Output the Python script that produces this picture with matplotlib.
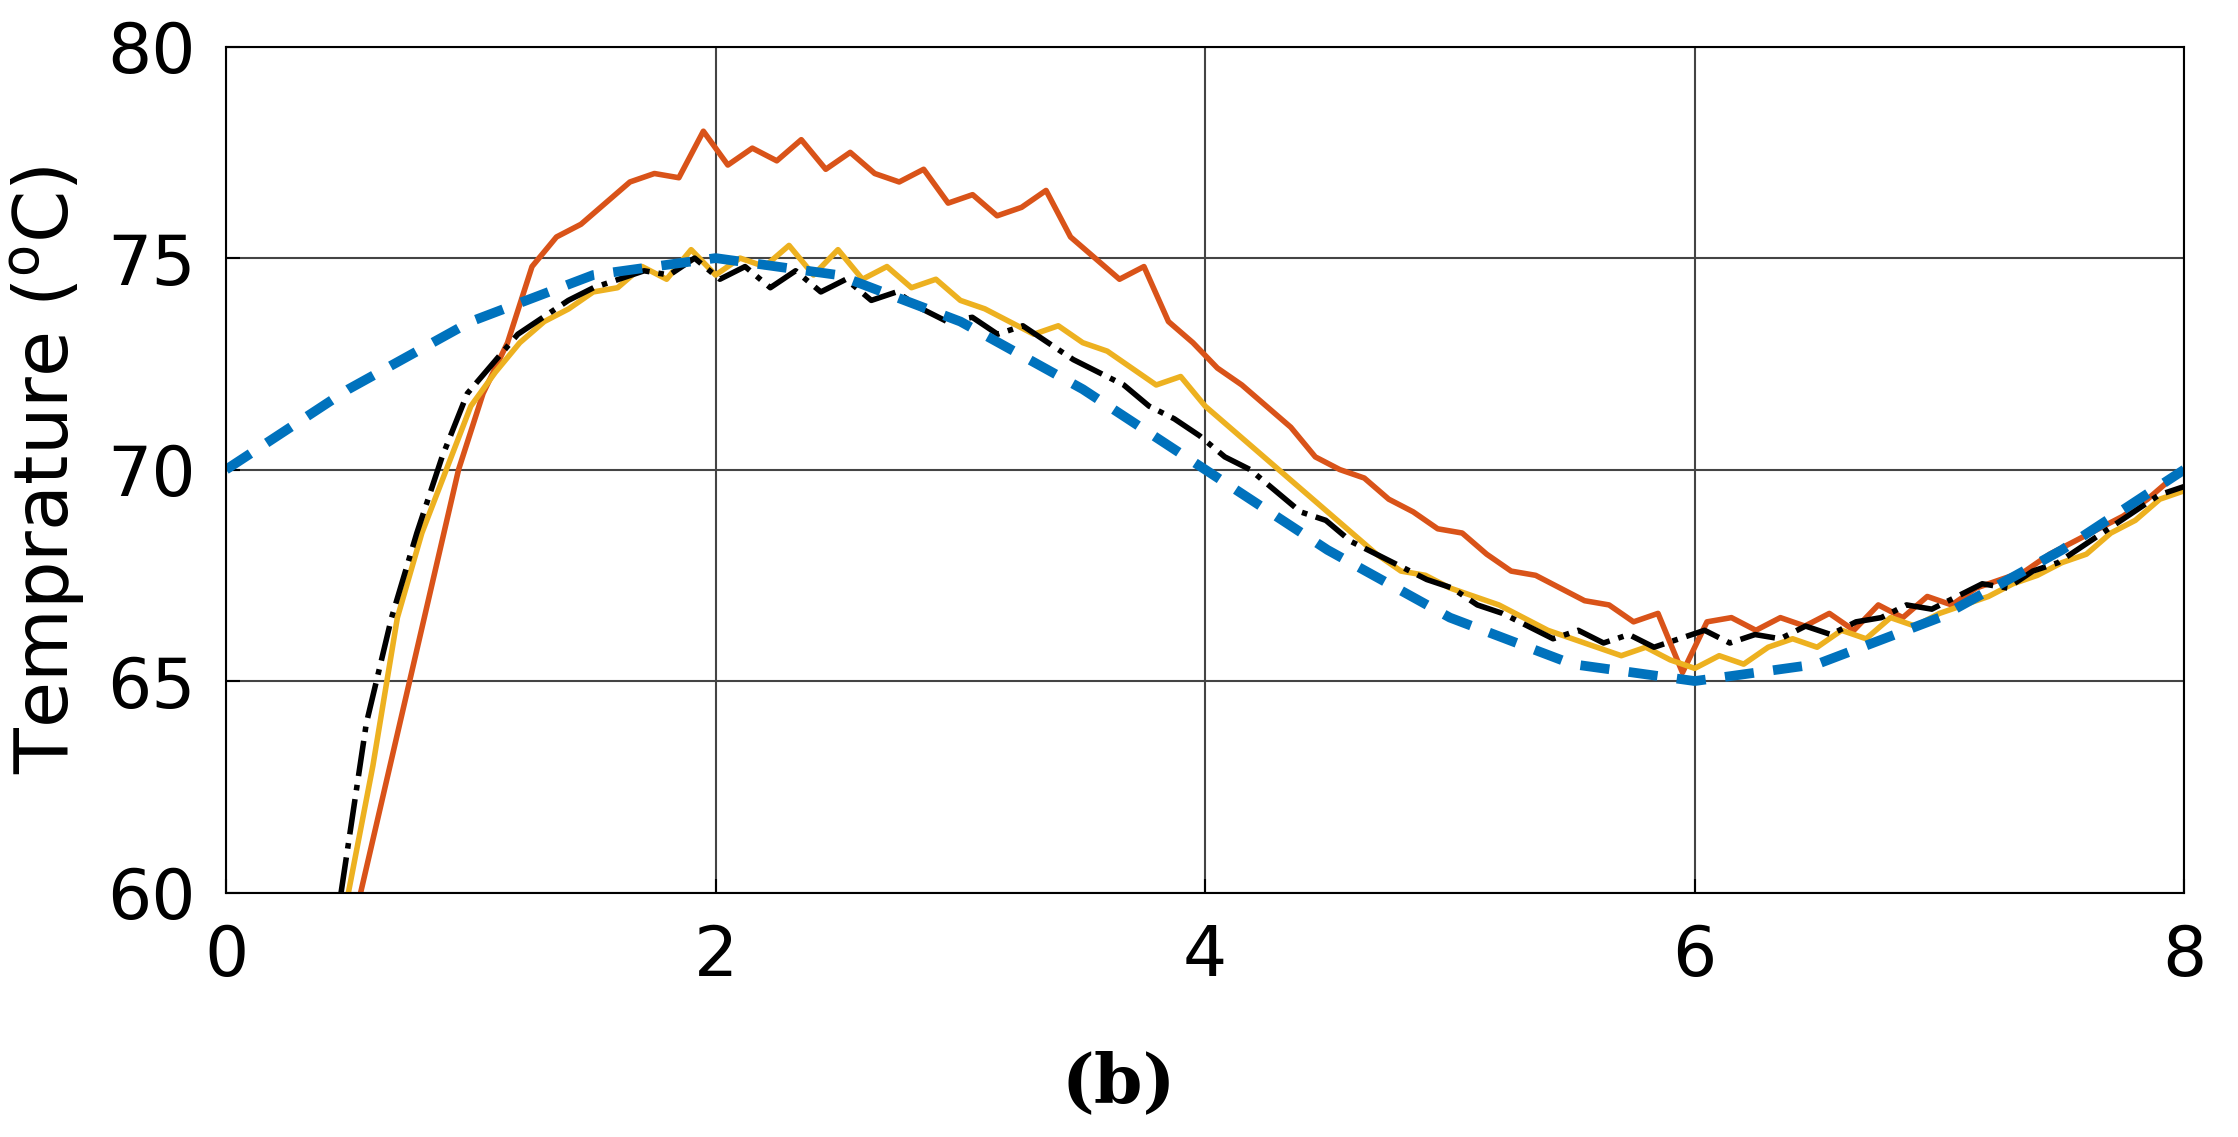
import numpy as np
import matplotlib.pyplot as plt

# reference curve (blue dashed), read at 0.5 s steps
ref_t = [0, 0.5, 1, 1.5, 2, 2.5, 3, 3.5, 4, 4.5, 5, 5.5, 6, 6.5, 7, 7.5, 8]
ref_y = [70, 71.9, 73.5, 74.6, 75, 74.6, 73.5, 71.9, 70, 68.1, 66.5, 65.4, 65, 65.4, 66.5, 68.1, 70]

# orange measured
orange_start, orange_end = 0.55, 7.95
orange_y = [60, 62.5, 65, 67.5, 70, 71.8, 73, 74.8, 75.5, 75.8,
            76.3, 76.8, 77.0, 76.9, 78.0, 77.2, 77.6, 77.3, 77.8, 77.1,
            77.5, 77.0, 76.8, 77.1, 76.3, 76.5, 76.0, 76.2, 76.6, 75.5,
            75.0, 74.5, 74.8, 73.5, 73.0, 72.4, 72.0, 71.5, 71.0, 70.3,
            70.0, 69.8, 69.3, 69.0, 68.6, 68.5, 68.0, 67.6, 67.5, 67.2,
            66.9, 66.8, 66.4, 66.6, 65.2, 66.4, 66.5, 66.2, 66.5, 66.3,
            66.6, 66.2, 66.8, 66.5, 67.0, 66.8, 67.2, 67.4, 67.6, 68.0,
            68.3, 68.6, 68.9, 69.3, 69.8]

# yellow measured
yellow_start, yellow_end = 0.5, 8.0
yellow_y = [60, 63, 66.5, 68.5, 70, 71.5, 72.3, 73, 73.5, 73.8,
            74.2, 74.3, 74.8, 74.5, 75.2, 74.6, 75.0, 74.8, 75.3, 74.6,
            75.2, 74.5, 74.8, 74.3, 74.5, 74.0, 73.8, 73.5, 73.2, 73.4,
            73.0, 72.8, 72.4, 72.0, 72.2, 71.5, 71.0, 70.5, 70.0, 69.5,
            69.0, 68.5, 68.0, 67.6, 67.5, 67.2, 67.0, 66.8, 66.5, 66.2,
            66.0, 65.8, 65.6, 65.8, 65.5, 65.3, 65.6, 65.4, 65.8, 66.0,
            65.8, 66.2, 66.0, 66.5, 66.3, 66.6, 66.8, 67.0, 67.3, 67.5,
            67.8, 68.0, 68.5, 68.8, 69.3, 69.5]

# black dash-dot measured
black_start, black_end = 0.47, 8.0
black_y = [60, 64, 66.5, 68.5, 70.3, 71.8, 72.5, 73.2, 73.6, 74.0,
           74.3, 74.5, 74.7, 74.6, 75.0, 74.5, 74.8, 74.3, 74.7, 74.2,
           74.5, 74.0, 74.2, 73.8, 73.5, 73.6, 73.2, 73.4, 73.0, 72.6,
           72.3, 72.0, 71.5, 71.2, 70.8, 70.3, 70.0, 69.5, 69.0, 68.8,
           68.3, 68.0, 67.7, 67.4, 67.2, 66.8, 66.6, 66.3, 66.0, 66.2,
           65.9, 66.1, 65.8, 66.0, 66.2, 65.9, 66.1, 66.0, 66.3, 66.1,
           66.4, 66.5, 66.8, 66.7, 67.0, 67.3, 67.2, 67.6, 67.8, 68.2,
           68.6, 69.0, 69.4, 69.6]

fig = plt.figure(figsize=(22.38, 11.37), dpi=100)
ax = fig.add_axes([0.101, 0.215, 0.875, 0.744])

ax.plot(np.linspace(orange_start, orange_end, len(orange_y)), orange_y,
        color='#D95319', lw=4)
ax.plot(np.linspace(yellow_start, yellow_end, len(yellow_y)), yellow_y,
        color='#EDB120', lw=4)
ax.plot(np.linspace(black_start, black_end, len(black_y)), black_y,
        color='black', lw=4, ls='-.')
ax.plot(ref_t, ref_y, color='#0072BD', lw=7, ls=(0, (3, 2)))

ax.set_xlim(0, 8)
ax.set_ylim(60, 80)
ax.set_xticks([0, 2, 4, 6, 8])
ax.set_yticks([60, 65, 70, 75, 80])
ax.grid(True, color='#444444', lw=1.5)
ax.tick_params(labelsize=50, direction='in', length=10, width=1.5, pad=22)
for s in ax.spines.values():
    s.set_linewidth(1.5)
ax.set_ylabel('Temprature ($^{\\rm o}$C)', fontsize=54, labelpad=14)
fig.text(0.5, 0.03, '(b)', ha='center', fontsize=50, fontweight='bold', family='serif')

fig.savefig('out.png', dpi=100)
